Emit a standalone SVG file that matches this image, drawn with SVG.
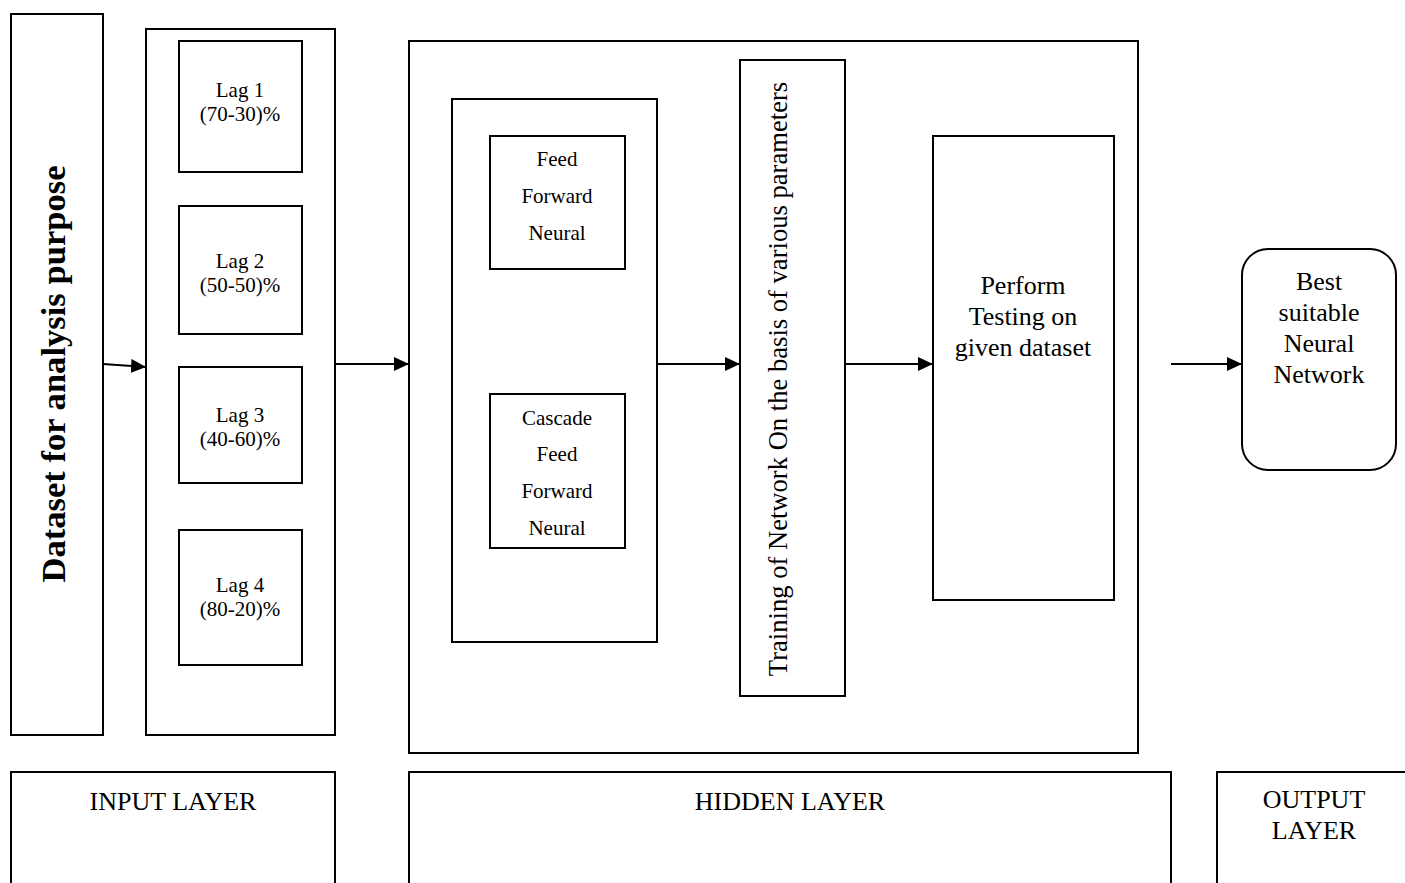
<svg xmlns="http://www.w3.org/2000/svg" width="1405" height="883" viewBox="0 0 1405 883">
<style>
.box{fill:#fff;stroke:#000;stroke-width:2}
.t{font-family:"Liberation Serif","Times New Roman",serif;fill:#000;text-anchor:middle}
.s21{font-size:21px}
.s26{font-size:26px}
.con{stroke:#000;stroke-width:2;fill:none}
</style>
<defs>
<marker id="ah" markerUnits="userSpaceOnUse" markerWidth="16" markerHeight="14" refX="15" refY="7" orient="auto">
<path d="M0,0 L15,7 L0,14 Z" fill="#000"/>
</marker>
</defs>
<rect width="1405" height="883" fill="#fff"/>
<g id="dataset">
<rect class="box" x="11" y="14" width="92" height="721"/>
<text class="t" style="font-size:34.6px;font-weight:bold" transform="translate(65,374) rotate(-90)">Dataset for analysis purpose</text>
</g>
<g id="input-container">
<rect class="box" x="146" y="29" width="189" height="706"/>
</g>
<g id="lag1">
<rect class="box" x="179" y="41" width="123" height="131"/>
<text class="t s21" x="240" y="97">Lag 1</text>
<text class="t s21" x="240" y="121">(70-30)%</text>
</g>
<g id="lag2">
<rect class="box" x="179" y="206" width="123" height="128"/>
<text class="t s21" x="240" y="268">Lag 2</text>
<text class="t s21" x="240" y="292">(50-50)%</text>
</g>
<g id="lag3">
<rect class="box" x="179" y="367" width="123" height="116"/>
<text class="t s21" x="240" y="422">Lag 3</text>
<text class="t s21" x="240" y="446">(40-60)%</text>
</g>
<g id="lag4">
<rect class="box" x="179" y="530" width="123" height="135"/>
<text class="t s21" x="240" y="592">Lag 4</text>
<text class="t s21" x="240" y="616">(80-20)%</text>
</g>
<g id="hidden-container">
<rect class="box" x="409" y="41" width="729" height="712"/>
</g>
<g id="network-types">
<rect class="box" x="452" y="99" width="205" height="543"/>
</g>
<g id="ffnn">
<rect class="box" x="490" y="136" width="135" height="133"/>
<text class="t s21" x="557" y="166">Feed</text>
<text class="t s21" x="557" y="203">Forward</text>
<text class="t s21" x="557" y="240">Neural</text>
</g>
<g id="cffnn">
<rect class="box" x="490" y="394" width="135" height="154"/>
<text class="t s21" x="557" y="425">Cascade</text>
<text class="t s21" x="557" y="461">Feed</text>
<text class="t s21" x="557" y="498">Forward</text>
<text class="t s21" x="557" y="535">Neural</text>
</g>
<g id="training">
<rect class="box" x="740" y="60" width="105" height="636"/>
<text class="t" style="font-size:26.6px" transform="translate(787,379) rotate(-90)">Training of Network On the basis of various parameters</text>
</g>
<g id="testing">
<rect class="box" x="933" y="136" width="181" height="464"/>
<text class="t s26" x="1023" y="294">Perform</text>
<text class="t s26" x="1023" y="325">Testing on</text>
<text class="t s26" x="1023" y="356">given dataset</text>
</g>
<g id="best">
<rect class="box" x="1242" y="249" width="154" height="221" rx="26" ry="26"/>
<text class="t s26" x="1319" y="290">Best</text>
<text class="t s26" x="1319" y="321">suitable</text>
<text class="t s26" x="1319" y="352">Neural</text>
<text class="t s26" x="1319" y="383">Network</text>
</g>
<g id="input-layer">
<rect class="box" x="11" y="772" width="324" height="140"/>
<text class="t s26" x="173" y="810">INPUT LAYER</text>
</g>
<g id="hidden-layer">
<rect class="box" x="409" y="772" width="762" height="140"/>
<text class="t s26" x="790" y="810">HIDDEN LAYER</text>
</g>
<g id="output-layer">
<rect class="box" x="1217" y="772" width="220" height="140"/>
<text class="t s26" x="1314" y="808">OUTPUT</text>
<text class="t s26" x="1314" y="839">LAYER</text>
</g>
<g id="connectors">
<line class="con" x1="103" y1="364" x2="146" y2="367" marker-end="url(#ah)"/>
<line class="con" x1="335" y1="364" x2="409" y2="364" marker-end="url(#ah)"/>
<line class="con" x1="657" y1="364" x2="740" y2="364" marker-end="url(#ah)"/>
<line class="con" x1="845" y1="364" x2="933" y2="364" marker-end="url(#ah)"/>
<line class="con" x1="1171" y1="364" x2="1242" y2="364" marker-end="url(#ah)"/>
</g>
</svg>
